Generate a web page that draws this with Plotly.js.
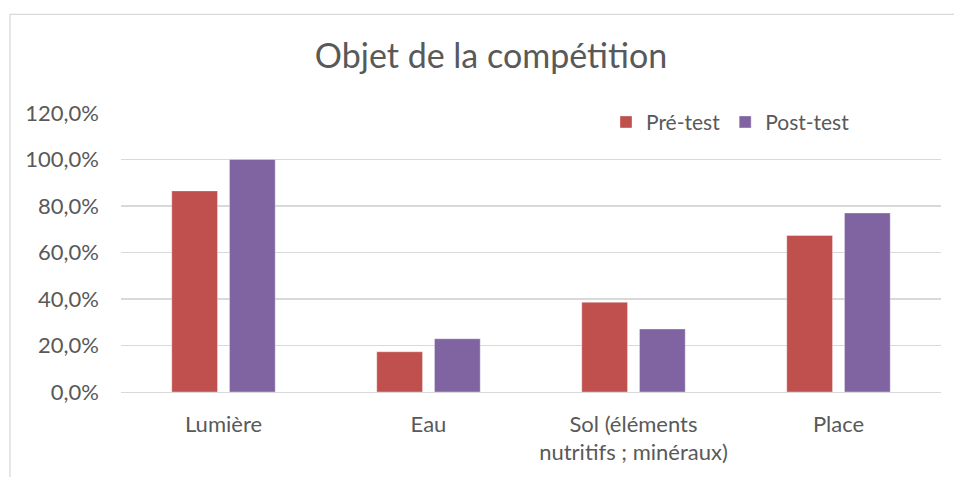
<!DOCTYPE html>
<html>
<head>
<meta charset="utf-8">
<script src="https://cdn.plot.ly/plotly-3.0.1.min.js"></script>
<style>html,body{margin:0;padding:0;background:#fff;}#chart{width:954px;height:477px;}</style>
</head>
<body>
<div id="chart"></div>
<script>
const categories = ["Lumière", "Eau", "Sol (éléments<br>nutritifs ; minéraux)", "Place"];
const preTest = [0.865, 0.173, 0.386, 0.673];
const postTest = [1.0, 0.229, 0.271, 0.770];
const seriesNames = ["Pré-test", "Post-test"];
const yTicks = [0, 0.2, 0.4, 0.6, 0.8, 1.0, 1.2];

const FONT = "Lato, 'Open Sans', sans-serif";
const TXT = "#595959";
const GRID = "#D9D9D9";

const traces = [
  {type: "bar", name: seriesNames[0], x: categories, y: preTest,
   marker: {color: "#C0504D", line: {color: "rgba(255,255,255,0.35)", width: 1}}},
  {type: "bar", name: seriesNames[1], x: categories, y: postTest,
   marker: {color: "#8064A2", line: {color: "rgba(255,255,255,0.35)", width: 1}}}
];

const L = 121, R = 13, T = 112.7, B = 85.3;
const W = 954 - L - R, H = 477 - T - B;

const layout = {
  width: 954, height: 477,
  margin: {l: L, r: R, t: T, b: B, pad: 0},
  paper_bgcolor: "#fff", plot_bgcolor: "#fff",
  separators: ", ",
  font: {family: FONT, color: TXT, size: 22},
  title: {text: "Objet de la compétition", font: {family: FONT, size: 34, color: TXT},
          x: (491 - L) / W, xanchor: "center", y: 1 - 56 / 477, yanchor: "middle", xref: "paper", yref: "container"},
  barmode: "group", bargap: 0.437, bargroupgap: 0.207,
  showlegend: true,
  legend: {orientation: "h", x: (606 - L) / W, xanchor: "left", y: (477 - B - 122) / H, yanchor: "middle",
           font: {family: FONT, size: 21, color: TXT}, bgcolor: "rgba(0,0,0,0)", itemwidth: 30,
           traceorder: "normal"},
  xaxis: {showgrid: false, showline: true, linecolor: GRID, linewidth: 1.3, ticks: "",
          tickfont: {family: FONT, size: 22, color: TXT}, ticklabelstandoff: 12, zeroline: false},
  yaxis: {range: [0, 1.2], tickvals: yTicks, tickformat: ".1%", showgrid: true, gridcolor: GRID,
          gridwidth: 1.3, zeroline: false, showline: false, ticks: "",
          tickfont: {family: FONT, size: 22, color: TXT}, ticklabelstandoff: 21},
  shapes: [{type: "rect", xref: "paper", yref: "paper",
            x0: (10 - L) / W, x1: 1.2, y0: -0.5, y1: (477 - B - 14) / H,
            line: {color: GRID, width: 1.3}, fillcolor: "rgba(0,0,0,0)", layer: "below"}]
};

Plotly.newPlot("chart", traces, layout, {displayModeBar: false, staticPlot: true});
</script>
</body>
</html>
